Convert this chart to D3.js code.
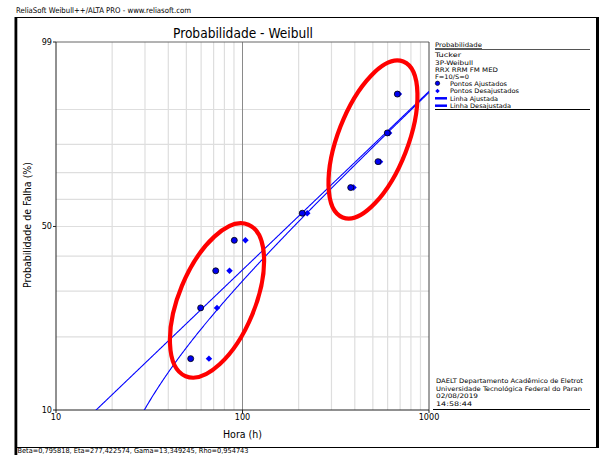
<!DOCTYPE html>
<html>
<head>
<meta charset="utf-8">
<script src="https://cdn.jsdelivr.net/npm/d3@7"></script>
<style>
  html, body { margin: 0; padding: 0; background: #fff; }
  svg { display: block; font-family: "DejaVu Sans Condensed", "Liberation Sans", Arial, sans-serif; }
</style>
</head>
<body>
<svg id="chart" width="603" height="455"></svg>
<script>
// Failure times (h) and median-rank unreliability (%) of the sample
const failureTimes = [66.1, 73.0, 85.2, 103.7, 222.5, 393.7, 546.0, 611.0, 689.5];
const unreliability = [16.35, 25.96, 35.58, 45.19, 54.81, 64.42, 74.04, 83.65, 93.27];

// 3P-Weibull fit parameters
const beta = 0.795818;
const eta = 277.422574;
const gamma = 13.349245;
const rho = 0.954743;

// Axis ticks and grid
const xTicks = [10, 100, 1000];
const xGrid = [20, 30, 40, 50, 60, 70, 80, 90, 200, 300, 400, 500, 600, 700, 800, 900];
const yTicks = [10, 50, 99];
const yGrid = [20, 30, 40, 60, 70, 80, 90];

// Text blocks
const headerText = "ReliaSoft Weibull++/ALTA PRO - www.reliasoft.com";
const chartTitle = "Probabilidade - Weibull";
const xTitle = "Hora (h)";
const yTitle = "Probabilidade de Falha (%)";
const legendTitle = "Probabilidade";
const legendInfo = ["Tucker", "3P-Weibull", "RRX RRM FM MED", "F=10/S=0"];
const legendItems = ["Pontos Ajustados", "Pontos Desajustados", "Linha Ajustada", "Linha Desajustada"];
const footerInfo = ["DAELT Departamento Acadêmico de Eletrot", "Universidade Tecnológica Federal do Paran", "02/08/2019", "14:58:44"];

// Highlight ellipses: centre in data units (h, %)
const highlightCentres = [[73.0, 27.7], [500.8, 81.6]];

const fmt = v => v.toFixed(6).replace(".", ",");
const paramText = `Beta=${fmt(beta)}, Eta=${fmt(eta)}, Gama=${fmt(gamma)}, Rho=${fmt(rho)}`;

const svg = d3.select("#chart");
const plot = { left: 56, right: 429, top: 42, bottom: 410 };

// Weibull probability transform
const wt = p => Math.log(-Math.log(1 - p / 100));
const x = d3.scaleLog().domain([10, 1000]).range([plot.left, plot.right]);
const yw = d3.scaleLinear().domain([wt(10), wt(99)]).range([plot.bottom, plot.top]);
const y = p => yw(wt(p));

function txt(g, s, px, py, size, width, anchor) {
  const t = g.append("text").attr("x", px).attr("y", py)
    .attr("font-size", size).attr("fill", "#000").text(s);
  if (anchor) t.attr("text-anchor", anchor);
  if (width) t.attr("textLength", width).attr("lengthAdjust", "spacingAndGlyphs");
  return t;
}

// Outer frame
svg.append("rect").attr("x", 0).attr("y", 0).attr("width", 603).attr("height", 455).attr("fill", "#fff");
txt(svg, headerText, 16, 12.5, 7.8, 175);
svg.append("line").attr("x1", 15).attr("x2", 599).attr("y1", 17.5).attr("y2", 17.5).attr("stroke", "#000");
svg.append("line").attr("x1", 15).attr("x2", 599).attr("y1", 447.5).attr("y2", 447.5).attr("stroke", "#000");
svg.append("rect").attr("x", 14.5).attr("y", 17).attr("width", 2.8).attr("height", 438).attr("fill", "#000");
svg.append("rect").attr("x", 596).attr("y", 17).attr("width", 3).attr("height", 431).attr("fill", "#000");
txt(svg, paramText, 17.5, 453.4, 7, 231);

// Title
txt(svg, chartTitle, 243, 38, 14, 140, "middle");

// Grid
const grid = svg.append("g");
grid.selectAll("line.gx").data(xGrid).join("line")
  .attr("x1", d => x(d)).attr("x2", d => x(d))
  .attr("y1", plot.top).attr("y2", plot.bottom)
  .attr("stroke", "#dedede").attr("stroke-width", 1.2);
grid.selectAll("line.gy").data(yGrid.concat([50])).join("line")
  .attr("x1", plot.left).attr("x2", plot.right)
  .attr("y1", d => y(d)).attr("y2", d => y(d))
  .attr("stroke", "#dedede").attr("stroke-width", 1.2);
grid.append("line").attr("x1", x(100)).attr("x2", x(100))
  .attr("y1", plot.top).attr("y2", plot.bottom).attr("stroke", "#8a8a8a").attr("stroke-width", 1);

// Plot border
svg.append("line").attr("x1", plot.left).attr("x2", plot.right).attr("y1", plot.top).attr("y2", plot.top).attr("stroke", "#666");
svg.append("line").attr("x1", plot.right).attr("x2", plot.right).attr("y1", plot.top).attr("y2", plot.bottom).attr("stroke", "#444");
svg.append("line").attr("x1", plot.left).attr("x2", plot.left).attr("y1", plot.top).attr("y2", plot.bottom + 0.5).attr("stroke", "#222");
svg.append("line").attr("x1", plot.left).attr("x2", plot.right).attr("y1", plot.bottom).attr("y2", plot.bottom).attr("stroke", "#222");

// Ticks and labels
const ax = svg.append("g");
yTicks.forEach(p => {
  ax.append("line").attr("x1", plot.left - 3).attr("x2", plot.left).attr("y1", y(p)).attr("y2", y(p)).attr("stroke", "#222");
  txt(ax, String(p), plot.left - 4, y(p) + 3, 9, null, "end");
});
xTicks.forEach(t => {
  ax.append("line").attr("x1", x(t)).attr("x2", x(t)).attr("y1", plot.bottom).attr("y2", plot.bottom + 3).attr("stroke", "#222");
  txt(ax, String(t), x(t), plot.bottom + 9.5, 9, null, "middle");
});
txt(ax, xTitle, 242.5, 438, 10.8, 39, "middle");
txt(ax, yTitle, 0, 0, 10.4, 126, "middle").attr("transform", "translate(31,225) rotate(-90)");

// Clip region for fitted lines
svg.append("clipPath").attr("id", "plotClip").append("rect")
  .attr("x", plot.left).attr("y", plot.top)
  .attr("width", plot.right - plot.left).attr("height", plot.bottom - plot.top);

const samples = d3.range(0, 601).map(i => Math.pow(10, 1 + 2 * i / 600));
const cdfAdj = t => 100 * (1 - Math.exp(-Math.pow(t / eta, beta)));
const cdfRaw = t => 100 * (1 - Math.exp(-Math.pow((t - gamma) / eta, beta)));
const lineGen = d3.line().x(d => x(d[0])).y(d => y(d[1]));

const lines = svg.append("g").attr("clip-path", "url(#plotClip)");
lines.append("path")
  .datum(samples.map(t => [t, cdfAdj(t)]).filter(d => d[1] > 5 && d[1] < 99.9))
  .attr("d", lineGen).attr("fill", "none").attr("stroke", "#0000ff").attr("stroke-width", 1.1);
lines.append("path")
  .datum(samples.filter(t => t > gamma + 1).map(t => [t, cdfRaw(t)]).filter(d => d[1] > 5 && d[1] < 99.9))
  .attr("d", lineGen).attr("fill", "none").attr("stroke", "#0000ff").attr("stroke-width", 1.1);

// Points: raw times (diamonds) and gamma-shifted times (circles)
const pts = failureTimes.map((t, i) => ({ t, adj: t - gamma, p: unreliability[i] }));
const diamond = d3.symbol().type(d3.symbolSquare).size(21);
svg.append("g").selectAll("path").data(pts).join("path")
  .attr("d", diamond)
  .attr("transform", d => `translate(${x(d.t)},${y(d.p)}) rotate(45)`)
  .attr("fill", "#0000ff");
svg.append("g").selectAll("circle").data(pts).join("circle")
  .attr("cx", d => x(d.adj)).attr("cy", d => y(d.p)).attr("r", 3)
  .attr("fill", "#0000f0").attr("stroke", "#000").attr("stroke-width", 0.8);

// Highlight ellipses
const ellipseShape = [{ rx: 82, ry: 38, rot: -67.5 }, { rx: 83.6, ry: 35, rot: -68.8 }];
svg.append("g").selectAll("ellipse").data(highlightCentres).join("ellipse")
  .attr("cx", 0).attr("cy", 0)
  .attr("rx", (d, i) => ellipseShape[i].rx).attr("ry", (d, i) => ellipseShape[i].ry)
  .attr("transform", (d, i) => `translate(${x(d[0])},${y(d[1])}) rotate(${ellipseShape[i].rot})`)
  .attr("fill", "none").attr("stroke", "#ff0000").attr("stroke-width", 4.2);

// Legend panel
const lg = svg.append("g");
const lx = 435;
const fs = 6.2;
txt(lg, legendTitle, lx, 47, fs, 47).attr("text-decoration", "underline");
lg.append("line").attr("x1", lx).attr("x2", 590).attr("y1", 49.5).attr("y2", 49.5).attr("stroke", "#555");
const infoY = [57.3, 64.6, 71.8, 79.1];
const infoW = [26, 38, 63, 34];
legendInfo.forEach((s, i) => txt(lg, s, lx, infoY[i], fs, infoW[i]));
const itemY = [83.3, 91, 98.3, 105.7];
const itemW = [57, 69, 48, 61];
legendItems.forEach((s, i) => txt(lg, s, 450, itemY[i] + 2.3, fs, itemW[i]));
lg.append("circle").attr("cx", 437.5).attr("cy", itemY[0]).attr("r", 2.2)
  .attr("fill", "#0000f0").attr("stroke", "#000").attr("stroke-width", 0.6);
lg.append("path").attr("d", d3.symbol().type(d3.symbolSquare).size(10))
  .attr("transform", `translate(437.5,${itemY[1]}) rotate(45)`).attr("fill", "#0000ff");
[itemY[2], itemY[3]].forEach(yy => lg.append("line")
  .attr("x1", lx).attr("x2", 447).attr("y1", yy).attr("y2", yy)
  .attr("stroke", "#0000ff").attr("stroke-width", 2.5));
lg.append("line").attr("x1", lx).attr("x2", 590).attr("y1", 109.5).attr("y2", 109.5).attr("stroke", "#000").attr("stroke-width", 1.2);

// Footer info panel
const fy = [383.3, 391, 398.3, 405.6];
const fw = [147, 146, 42, 36];
footerInfo.forEach((s, i) => txt(lg, s, 436, fy[i], fs, fw[i]));
lg.append("line").attr("x1", 433).attr("x2", 590).attr("y1", 409.5).attr("y2", 409.5).attr("stroke", "#000");
</script>
</body>
</html>
